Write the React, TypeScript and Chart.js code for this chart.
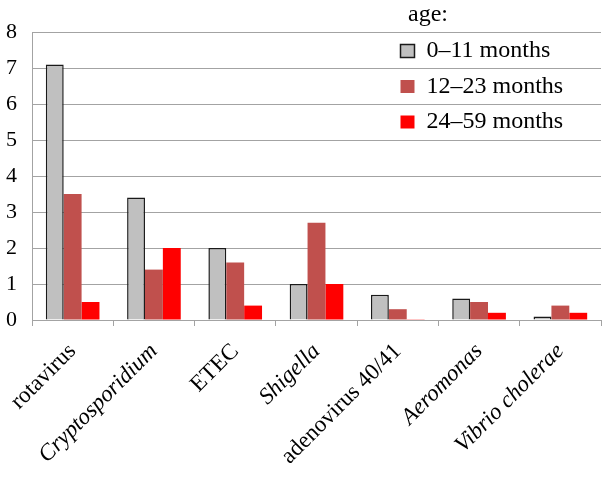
import React, { useEffect, useRef } from "react";
import { Chart, registerables } from "chart.js";

Chart.register(...registerables);

const categories = [
  "rotavirus",
  "Cryptosporidium",
  "ETEC",
  "Shigella",
  "adenovirus 40/41",
  "Aeromonas",
  "Vibrio cholerae",
];
const italicLabels = [false, true, false, true, false, true, true];
const seriesNames = ["0\u201311 months", "12\u201323 months", "24\u201359 months"];
const age0to11 = [7.1, 3.4, 2.0, 1.0, 0.7, 0.6, 0.1];
const age12to23 = [3.5, 1.4, 1.6, 2.7, 0.3, 0.5, 0.4];
const age24to59 = [0.5, 2.0, 0.4, 1.0, 0.02, 0.2, 0.2];
const yTicks = [0, 1, 2, 3, 4, 5, 6, 7, 8];
const legendTitle = "age:";

const FONT = "'Liberation Serif', 'Times New Roman', serif";
const GRID = "#a3a3a3";

export default function App() {
  const ref = useRef<HTMLCanvasElement | null>(null);

  useEffect(() => {
    if (!ref.current) return;
    const legendShift = {
      id: "legendShift",
      afterLayout(chart: any) {
        const lg = chart.legend;
        if (lg) {
          lg.left = 389;
          lg.width = 59;
          lg.right = 602;
          lg.top = -1;
          lg.bottom = lg.top + lg.height;
        }
      },
    };
    const chart = new Chart(ref.current, {
      type: "bar",
      data: {
        labels: categories,
        datasets: [
          {
            label: seriesNames[0],
            data: age0to11,
            backgroundColor: "#c0c0c0",
            borderColor: "#1a1a1a",
            borderWidth: 1.5,
          },
          {
            label: seriesNames[1],
            data: age12to23,
            backgroundColor: "#c0504d",
            borderWidth: 0,
          },
          {
            label: seriesNames[2],
            data: age24to59,
            backgroundColor: "#ff0000",
            borderWidth: 0,
          },
        ],
      },
      options: {
        animation: false,
        responsive: false,
        maintainAspectRatio: false,
        layout: { padding: { top: 32, right: 1, left: 0, bottom: 0 } },
        datasets: {
          bar: { categoryPercentage: 0.66, barPercentage: 1 },
        },
        plugins: {
          tooltip: { enabled: false },
          legend: {
            position: "chartArea" as any,
            align: "start",
            title: {
              display: true,
              text: legendTitle,
              color: "#000",
              font: { family: FONT, size: 24 },
              padding: { top: 4, bottom: -4.3 },
              position: "end",
            },
            labels: {
              color: "#000",
              font: { family: FONT, size: 24 },
              boxWidth: 14,
              boxHeight: 13,
              padding: 11.5,
            },
          },
        },
        scales: {
          x: {
            offset: true,
            grid: {
              display: true,
              offset: true,
              drawOnChartArea: false,
              drawTicks: true,
              tickLength: 6,
              color: GRID,
            },
            border: { display: true, color: GRID, width: 1 },
            ticks: {
              color: "#000",
              minRotation: 45,
              maxRotation: 45,
              autoSkip: false,
              padding: 12,
              font: (ctx: any) => ({
                family: FONT,
                size: 23,
                style: italicLabels[ctx.index] ? "italic" : "normal",
              }),
            },
            afterFit: (scale: any) => {
              scale.height = 159;
              scale.paddingLeft = 0;
              scale.paddingRight = 0;
            },
          },
          y: {
            min: 0,
            max: 8,
            afterBuildTicks: (scale: any) => {
              scale.ticks = yTicks.map((v) => ({ value: v }));
            },
            grid: { color: GRID, drawTicks: false },
            border: { display: true, color: GRID, width: 1 },
            ticks: {
              color: "#000",
              padding: 15,
              font: { family: FONT, size: 22 },
            },
            afterFit: (scale: any) => {
              scale.width = 32;
            },
          },
        },
      },
      plugins: [legendShift],
    });
    return () => chart.destroy();
  }, []);

  return (
    <div style={{ position: "fixed", left: 0, top: 0, width: 602, height: 479, background: "#fff" }}>
      <canvas ref={ref} width={602} height={479} style={{ display: "block" }} />
    </div>
  );
}
